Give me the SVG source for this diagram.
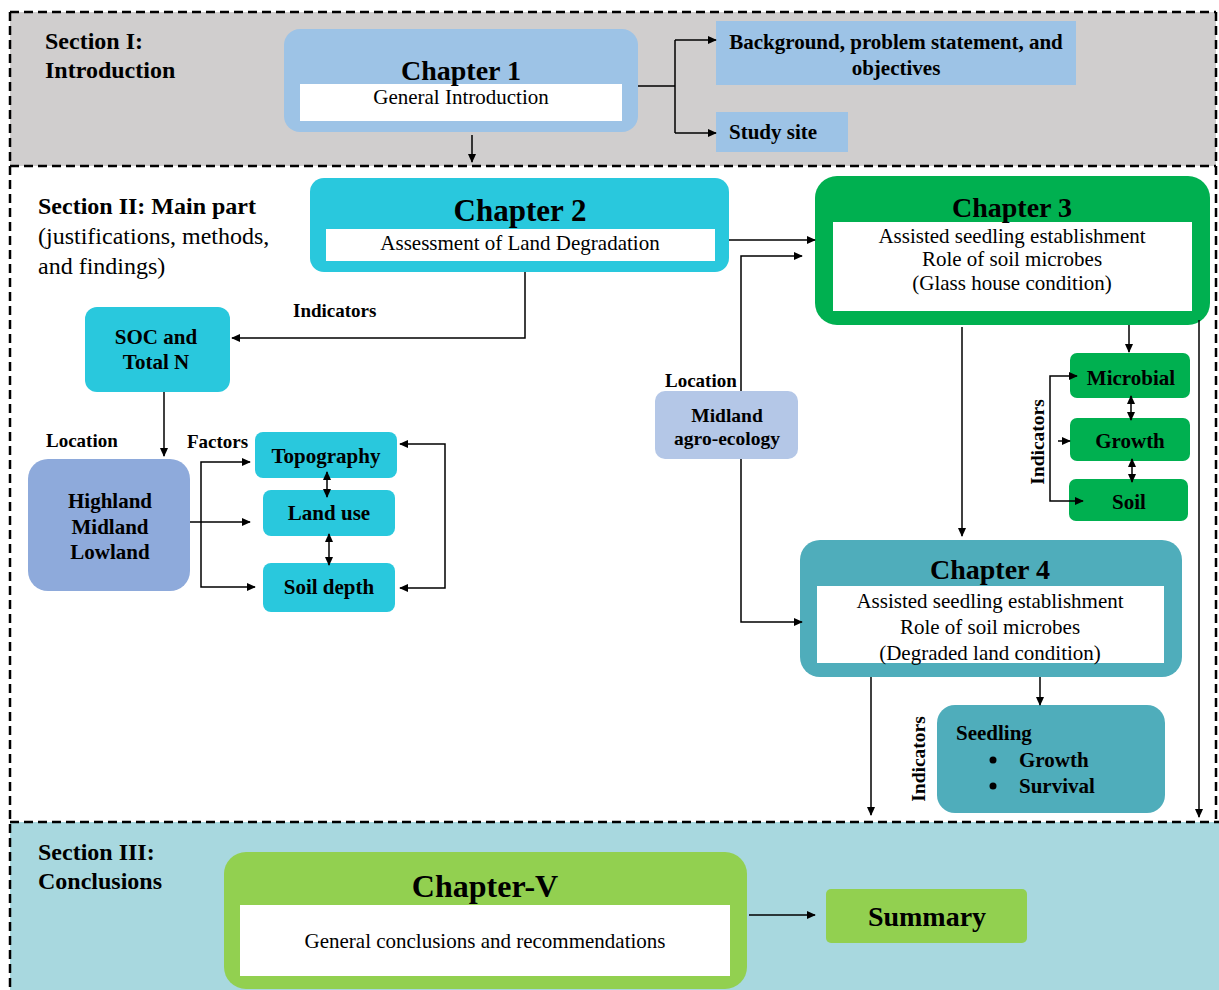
<svg xmlns="http://www.w3.org/2000/svg" width="1219" height="990" viewBox="0 0 1219 990">
<defs>
<marker id="ah" viewBox="0 0 10 10" refX="9" refY="5" markerWidth="9" markerHeight="9" markerUnits="userSpaceOnUse" orient="auto-start-reverse"><path d="M0,0.5 L10,5 L0,9.5 z" fill="#000"/></marker>
<style>
text{font-family:"Liberation Serif","Times New Roman",serif;fill:#000}
.b{font-weight:bold}
.ch{font-weight:bold;text-anchor:middle}
.c{text-anchor:middle}
.ln{fill:none;stroke:#000;stroke-width:1.5}
.dash{fill:none;stroke:#000;stroke-width:2.5;stroke-dasharray:9 5}
</style>
</defs>
<rect width="1219" height="990" fill="#fff"/>
<g id="sections">
<rect x="10" y="12" width="1206" height="154" fill="#d0cece"/>
<rect x="10" y="822" width="1209" height="168" fill="#a8d8df"/>
<path class="dash" d="M10,12 H1216 M10,12 V990 M1216,12 V822 M10,166 H1216 M10,822 H1219"/>
</g>
<g id="labels">
<text class="b" x="45" y="49" font-size="24">Section I:</text>
<text class="b" x="45" y="78" font-size="24">Introduction</text>
<text class="b" x="38" y="214" font-size="24">Section II: Main part</text>
<text x="38" y="244" font-size="24">(justifications, methods,</text>
<text x="38" y="274" font-size="24">and findings)</text>
<text class="b" x="38" y="860" font-size="24">Section III:</text>
<text class="b" x="38" y="889" font-size="24">Conclusions</text>
<text class="b" x="293" y="317" font-size="19">Indicators</text>
<text class="b" x="46" y="447" font-size="19">Location</text>
<text class="b" x="187" y="448" font-size="19">Factors</text>
<text class="b" x="665" y="387" font-size="19">Location</text>
<text class="b" font-size="19.5" text-anchor="middle" transform="translate(1044,442) rotate(-90)">Indicators</text>
<text class="b" font-size="19.5" text-anchor="middle" transform="translate(925,759) rotate(-90)">Indicators</text>
</g>
<g id="chapter1">
<rect x="284" y="29" width="354" height="103" rx="16" fill="#9dc3e6"/>
<rect x="300" y="84" width="322" height="37" fill="#fff"/>
<text class="ch" x="461" y="80" font-size="28">Chapter 1</text>
<text class="c" x="461" y="104" font-size="21">General Introduction</text>
</g>
<g id="background">
<rect x="716" y="21" width="360" height="64" fill="#9dc3e6"/>
<text class="ch" x="896" y="49" font-size="21">Background, problem statement, and</text>
<text class="ch" x="896" y="75" font-size="21">objectives</text>
</g>
<g id="studysite">
<rect x="716" y="112" width="132" height="40" fill="#9dc3e6"/>
<text class="b" x="729" y="139" font-size="21">Study site</text>
</g>
<g id="chapter2">
<rect x="310" y="178" width="419" height="94" rx="14" fill="#29c8dd"/>
<rect x="326" y="229" width="389" height="32" fill="#fff"/>
<text class="ch" x="520" y="221" font-size="31">Chapter 2</text>
<text class="c" x="520" y="250" font-size="21">Assessment of Land Degradation</text>
</g>
<g id="soc">
<rect x="85" y="307" width="145" height="85" rx="12" fill="#29c8dd"/>
<text class="ch" x="156" y="344" font-size="21">SOC and</text>
<text class="ch" x="156" y="369" font-size="21">Total N</text>
</g>
<g id="highland">
<rect x="28" y="459" width="162" height="132" rx="20" fill="#8eaadb"/>
<text class="ch" x="110" y="508" font-size="21">Highland</text>
<text class="ch" x="110" y="534" font-size="21">Midland</text>
<text class="ch" x="110" y="559" font-size="21">Lowland</text>
</g>
<g id="topography">
<rect x="255" y="432" width="142" height="46" rx="8" fill="#29c8dd"/>
<text class="ch" x="326" y="463" font-size="21">Topography</text>
</g>
<g id="landuse">
<rect x="263" y="490" width="132" height="46" rx="8" fill="#29c8dd"/>
<text class="ch" x="329" y="520" font-size="21">Land use</text>
</g>
<g id="soildepth">
<rect x="263" y="563" width="132" height="49" rx="8" fill="#29c8dd"/>
<text class="ch" x="329" y="594" font-size="21">Soil depth</text>
</g>
<g id="chapter3">
<rect x="815" y="176" width="395" height="149" rx="22" fill="#00b050"/>
<rect x="833" y="222" width="359" height="89" fill="#fff"/>
<text class="ch" x="1012" y="217" font-size="28">Chapter 3</text>
<text class="c" x="1012" y="243" font-size="21">Assisted seedling establishment</text>
<text class="c" x="1012" y="266" font-size="21">Role of soil microbes</text>
<text class="c" x="1012" y="290" font-size="21">(Glass house condition)</text>
</g>
<g id="midland">
<rect x="655" y="391" width="143" height="68" rx="10" fill="#b4c7e7"/>
<text class="ch" x="727" y="422" font-size="19.5">Midland</text>
<text class="ch" x="727" y="445" font-size="19.5">agro-ecology</text>
</g>
<g id="microbial">
<rect x="1070" y="353" width="120" height="45" rx="7" fill="#00b050"/>
<text class="ch" x="1131" y="385" font-size="21">Microbial</text>
</g>
<g id="growth">
<rect x="1070" y="418" width="120" height="43" rx="7" fill="#00b050"/>
<text class="ch" x="1130" y="448" font-size="21">Growth</text>
</g>
<g id="soil">
<rect x="1069" y="479" width="119" height="42" rx="7" fill="#00b050"/>
<text class="ch" x="1129" y="509" font-size="21">Soil</text>
</g>
<g id="chapter4">
<rect x="800" y="540" width="382" height="137" rx="20" fill="#4fadbb"/>
<rect x="817" y="586" width="347" height="77" fill="#fff"/>
<text class="ch" x="990" y="579" font-size="28">Chapter 4</text>
<text class="c" x="990" y="608" font-size="21">Assisted seedling establishment</text>
<text class="c" x="990" y="634" font-size="21">Role of soil microbes</text>
<text class="c" x="990" y="660" font-size="21">(Degraded land condition)</text>
</g>
<g id="seedling">
<rect x="937" y="705" width="228" height="108" rx="18" fill="#4fadbb"/>
<text class="b" x="956" y="740" font-size="21">Seedling</text>
<circle cx="993" cy="760" r="3.5" fill="#000"/>
<circle cx="993" cy="786" r="3.5" fill="#000"/>
<text class="b" x="1019" y="767" font-size="21">Growth</text>
<text class="b" x="1019" y="793" font-size="21">Survival</text>
</g>
<g id="chapter5">
<rect x="224" y="852" width="523" height="137" rx="22" fill="#92d050"/>
<rect x="240" y="905" width="490" height="71" fill="#fff"/>
<text class="ch" x="485" y="897" font-size="32">Chapter-V</text>
<text class="c" x="485" y="948" font-size="21">General conclusions and recommendations</text>
</g>
<g id="summary">
<rect x="826" y="889" width="201" height="54" rx="5" fill="#92d050"/>
<text class="ch" x="927" y="926" font-size="28">Summary</text>
</g>
<g id="connectors">
<path class="ln" d="M472,135 V162" marker-end="url(#ah)"/>
<path class="ln" d="M638,86 H675 M675,40 V133"/>
<path class="ln" d="M675,40 H716" marker-end="url(#ah)"/>
<path class="ln" d="M675,133 H716" marker-end="url(#ah)"/>
<path class="ln" d="M729,240 H815" stroke-width="2.5" marker-end="url(#ah)"/>
<path class="ln" d="M525,272 V338 H232" marker-end="url(#ah)"/>
<path class="ln" d="M164,392 V456" marker-end="url(#ah)"/>
<path class="ln" d="M190,522 H250" marker-end="url(#ah)"/>
<path class="ln" d="M250,462 H201 V587 H255" marker-start="url(#ah)" marker-end="url(#ah)"/>
<path class="ln" d="M327,472 V497" marker-start="url(#ah)" marker-end="url(#ah)"/>
<path class="ln" d="M329,534 V565" marker-start="url(#ah)" marker-end="url(#ah)"/>
<path class="ln" d="M400,444 H445 V588 H400" marker-start="url(#ah)" marker-end="url(#ah)"/>
<path class="ln" d="M741,391 V256 H802" marker-end="url(#ah)"/>
<path class="ln" d="M741,459 V622 H802" marker-end="url(#ah)"/>
<path class="ln" d="M962,327 V536" stroke-width="2" marker-end="url(#ah)"/>
<path class="ln" d="M1129,325 V352" marker-end="url(#ah)"/>
<path class="ln" d="M1199,320 V817" stroke-width="2" marker-end="url(#ah)"/>
<path class="ln" d="M1077,376 H1050 V501 H1083" marker-start="url(#ah)" marker-end="url(#ah)"/>
<path class="ln" d="M1058,441 H1070" marker-end="url(#ah)"/>
<path class="ln" d="M1131,396 V420" marker-start="url(#ah)" marker-end="url(#ah)"/>
<path class="ln" d="M1132,459 V482" marker-start="url(#ah)" marker-end="url(#ah)"/>
<path class="ln" d="M871,677 V815" stroke-width="2" marker-end="url(#ah)"/>
<path class="ln" d="M1040,677 V705" marker-end="url(#ah)"/>
<path class="ln" d="M749,915 H815" stroke-width="2.5" marker-end="url(#ah)"/>
</g>
</svg>
